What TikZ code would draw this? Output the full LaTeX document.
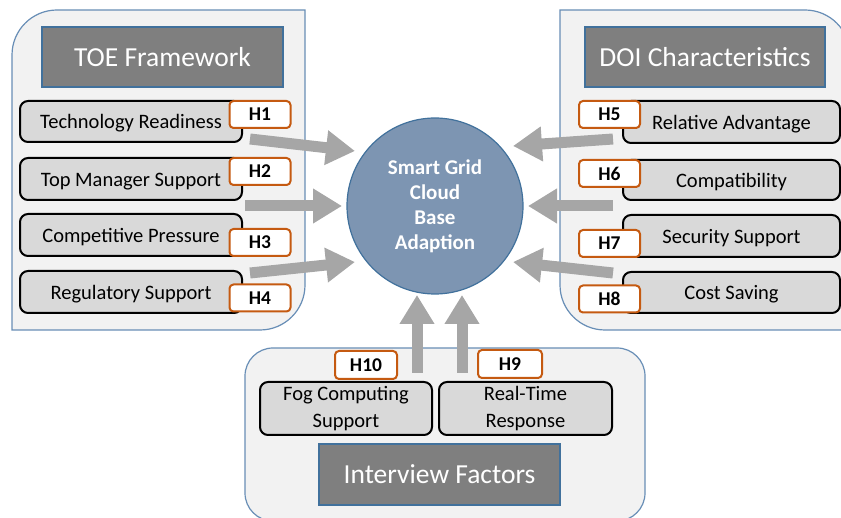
\documentclass[tikz,border=0pt]{standalone}
\usepackage{fontspec}
\setmainfont{Carlito}
\usetikzlibrary{arrows.meta}
\definecolor{panelfill}{RGB}{242,242,242}
\definecolor{panelline}{RGB}{104,142,182}
\definecolor{hdrfill}{RGB}{127,127,127}
\definecolor{hdrline}{RGB}{65,113,156}
\definecolor{itemfill}{RGB}{217,217,217}
\definecolor{horange}{RGB}{197,90,17}
\definecolor{arrowgray}{RGB}{166,166,166}
\definecolor{circfill}{RGB}{125,149,178}
\definecolor{circline}{RGB}{65,113,156}
\tikzset{
 panel/.style={fill=panelfill, draw=panelline, line width=1.2pt},
 header/.style={fill=hdrfill, draw=hdrline, line width=1.6pt, text=white, font=\fontsize{27.5}{32}\selectfont, inner sep=0pt, minimum height=60pt},
 item/.style={fill=itemfill, draw=black, line width=2pt, rounded corners=8pt, font=\fontsize{20.5}{27}\selectfont, inner sep=0pt, align=center},
 oneline/.style={text height=17pt, text depth=2pt},
 hlabel/.style={fill=white, draw=horange, line width=2pt, rounded corners=4pt, font=\bfseries\fontsize{19.5}{22}\selectfont, minimum width=61pt, minimum height=27pt, inner sep=0pt},
 bigarrow/.style={draw=arrowgray, line width=11pt, -{Triangle[length=29pt,width=33pt]}},
}
\begin{document}
\begin{tikzpicture}[x=1pt,y=-1pt]
\useasboundingbox (0,0) rectangle (841,518);
\clip (0,0) rectangle (841,518);
% panels
\draw[panel] (12,330) -- (12,55) arc (180:270:45) -- (305,10) -- (305,285) arc (0:90:45) -- cycle;
\draw[panel] (560,10) -- (805,10) arc (270:360:45) -- (850,330) -- (605,330) arc (90:180:45) -- cycle;
\draw[panel, rounded corners=28pt] (245,348) rectangle (645,521);
% headers
\node[header, minimum width=241pt] (toe) at (162.5,57) {TOE Framework};
\node[header, minimum width=240pt] (doi) at (705,57) {DOI Characteristics};
\node[header, minimum width=241pt, minimum height=61pt] (intf) at (439.5,474.5) {Interview Factors};
% left items
\node[item, oneline, minimum width=222pt, minimum height=41pt] (tr) at (131,121.5) {Technology Readiness};
\node[item, oneline, minimum width=222pt, minimum height=42pt] (tm) at (131,179) {Top Manager Support};
\node[item, oneline, minimum width=222pt, minimum height=42pt] (cp) at (131,235) {Competitive Pressure};
\node[item, oneline, minimum width=222pt, minimum height=42pt] (rs) at (131,292) {Regulatory Support};
% right items
\node[item, oneline, minimum width=217pt, minimum height=42pt] (ra) at (731.5,122) {Relative Advantage};
\node[item, oneline, minimum width=217pt, minimum height=40pt] (co) at (731.5,180) {Compatibility};
\node[item, oneline, minimum width=217pt, minimum height=42pt] (ss) at (731.5,236) {Security Support};
\node[item, oneline, minimum width=217pt, minimum height=41pt] (cs) at (731.5,292.5) {Cost Saving};
% bottom items
\node[item, minimum width=172pt, minimum height=53pt] (fog) at (346,408.5) {Fog Computing\\Support};
\node[item, minimum width=173pt, minimum height=53pt] (rt) at (525.5,408.5) {Real-Time\\Response};
% hypothesis labels
\node[hlabel] (h1) at (260,114.5) {H1};
\node[hlabel] (h2) at (260,171.5) {H2};
\node[hlabel] (h3) at (260,242.5) {H3};
\node[hlabel] (h4) at (260,298) {H4};
\node[hlabel] (h5) at (609.5,114.5) {H5};
\node[hlabel] (h6) at (609.5,173.5) {H6};
\node[hlabel] (h7) at (609.5,243.5) {H7};
\node[hlabel] (h8) at (609.5,299) {H8};
\node[hlabel, minimum width=62pt, minimum height=28pt] (h10) at (366,365) {H10};
\node[hlabel, minimum width=64pt, minimum height=28pt] (h9) at (510,364) {H9};
% central circle
\node[circle, minimum size=176pt, inner sep=0pt, fill=circfill, draw=circline, line width=1.2pt, text=white, align=center, font=\bfseries\fontsize{21}{25}\selectfont] (sg) at (435,206) {Smart Grid\\Cloud\\Base\\Adaption};
% arrow end points
\coordinate (a1s) at (250,139); \coordinate (a1e) at (355,151);
\coordinate (a2s) at (245,206); \coordinate (a2e) at (342,206);
\coordinate (a3s) at (250,273); \coordinate (a3e) at (355,262);
\coordinate (a5s) at (613,139); \coordinate (a5e) at (513,146);
\coordinate (a6s) at (613,206); \coordinate (a6e) at (528,206);
\coordinate (a7s) at (613,273); \coordinate (a7e) at (513,262);
\coordinate (a10s) at (417,373); \coordinate (a10e) at (417,295);
\coordinate (a9s) at (462,373); \coordinate (a9e) at (462,295);
\draw[bigarrow] (a1s) -- (a1e);
\draw[bigarrow] (a2s) -- (a2e);
\draw[bigarrow] (a3s) -- (a3e);
\draw[bigarrow] (a5s) -- (a5e);
\draw[bigarrow] (a6s) -- (a6e);
\draw[bigarrow] (a7s) -- (a7e);
\draw[bigarrow] (a10s) -- (a10e);
\draw[bigarrow] (a9s) -- (a9e);
\end{tikzpicture}
\end{document}
